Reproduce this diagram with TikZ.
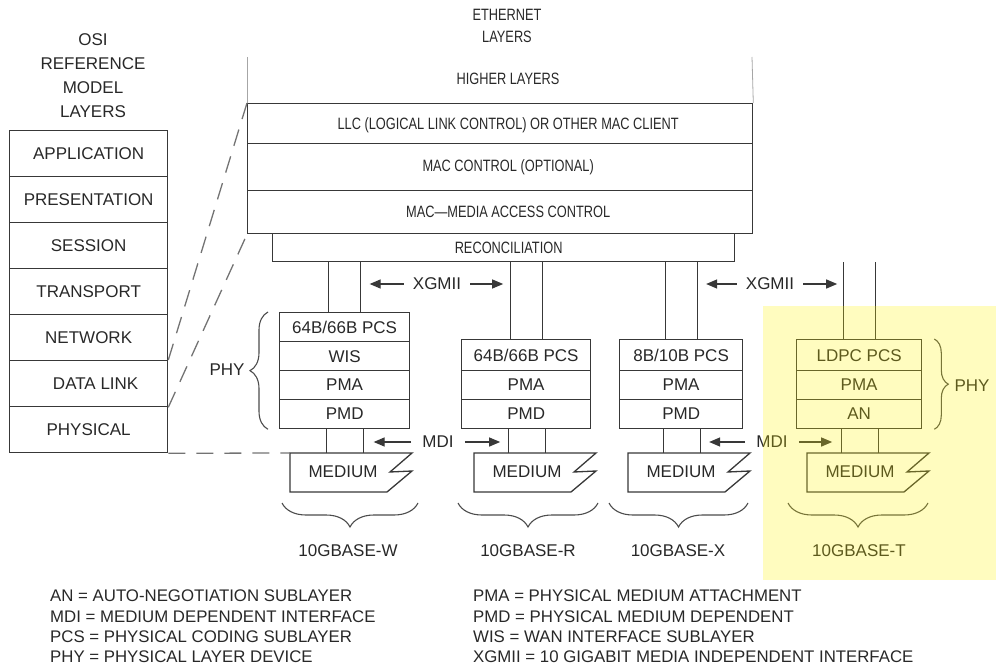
\documentclass[tikz,border=0pt]{standalone}
\usepackage{fontspec}
\setmainfont{Liberation Sans}
\newfontfamily\narrowsf{Liberation Sans}[FakeStretch=0.78]
\usetikzlibrary{arrows.meta,decorations.pathreplacing,calc}

\definecolor{ink}{HTML}{282828}
\definecolor{rule}{HTML}{383838}

\tikzset{
  pics/medium/.style={code={
    \draw[wire] (0,0) -- (122,0) -- (100,19) -- (122,18) -- (97,39) -- (0,39) -- cycle;
    \coordinate (-nw) at (0,0);
    \coordinate (-top) at (61,0);
    \node[big] (-txt) at (53,19) {MEDIUM};
  }}
}

\begin{document}
\begin{tikzpicture}[x=1pt,y=-1pt,
  every node/.style={text=ink, inner sep=0pt},
  big/.style={font=\fontsize{17}{24}\selectfont},
  small/.style={font=\narrowsf\fontsize{16.4}{22}\selectfont},
  legend/.style={font=\fontsize{16.8}{20}\selectfont, anchor=west},
  cell/.style={draw=rule, line width=1.3pt, anchor=north west, big},
  band/.style={draw=rule, line width=1.3pt, anchor=north west},
  wire/.style={draw=rule, line width=1.3pt},
  guide/.style={draw=black!35, line width=0.8pt},
  dashlink/.style={draw=black!55, line width=1.3pt, dash pattern=on 17pt off 11pt},
  dirarrow/.style={draw=rule, line width=1.3pt, -{Triangle[length=11pt,width=9pt]}},
  curly/.style={draw=black!70, line width=1.1pt, decorate, decoration={brace, amplitude=#1}},
]
\useasboundingbox (0,0) rectangle (996,668);

% ---------------- OSI reference model ----------------
\node[big, align=center] (osititle) at (93,76) {OSI\\REFERENCE\\MODEL\\LAYERS};
\node[cell, minimum width=158pt, minimum height=46pt] (o1) at (9,130) {APPLICATION};
\node[cell, minimum width=158pt, minimum height=46pt] (o2) at (9,176) {PRESENTATION};
\node[cell, minimum width=158pt, minimum height=46pt] (o3) at (9,222) {SESSION};
\node[cell, minimum width=158pt, minimum height=46pt] (o4) at (9,268) {TRANSPORT};
\node[cell, minimum width=158pt, minimum height=46pt] (o5) at (9,314) {NETWORK};
\node[cell, minimum width=158pt, minimum height=46pt] (o6) at (9,360) {\hspace*{14pt}DATA LINK};
\node[cell, minimum width=158pt, minimum height=46pt] (o7) at (9,406) {PHYSICAL};

% ---------------- Ethernet layers ----------------
\node[small, align=center] (ethtitle) at (507,26) {ETHERNET\\LAYERS};
\node[small] (higher) at (508,79) {HIGHER LAYERS};
\node[band, minimum width=505pt, minimum height=40pt] (llc) at (247,103) {};
\node[band, minimum width=505pt, minimum height=47pt] (macctl) at (247,143) {};
\node[band, minimum width=505pt, minimum height=43pt] (mac) at (247,190) {};
\node[band, minimum width=462pt, minimum height=28pt] (rec) at (272,233) {};
\node[small] at ([xshift=8pt,yshift=-2pt]llc.center) {LLC (LOGICAL LINK CONTROL) OR OTHER MAC CLIENT};
\node[small] at ([xshift=8pt]macctl.center) {MAC CONTROL (OPTIONAL)};
\node[small] at ([xshift=8pt]mac.center) {MAC\textemdash MEDIA ACCESS CONTROL};
\node[small] at ([xshift=5pt]rec.center) {RECONCILIATION};
\coordinate (hlL) at (247,57);
\coordinate (hlR) at (752,57);
\draw[guide] (hlL) -- (llc.north west);
\draw[guide] (hlR) -- (llc.north east);

% ---------------- 10GBASE-W ----------------
\node[cell, minimum width=130pt, minimum height=29pt] (w1) at (279,312) {64B/66B PCS};
\node[cell, minimum width=130pt, minimum height=29pt] (w2) at (279,341) {WIS};
\node[cell, minimum width=130pt, minimum height=29pt] (w3) at (279,370) {PMA};
\node[cell, minimum width=130pt, minimum height=29pt] (w4) at (279,399) {PMD};
\pic (mw) at (290,453) {medium};

% ---------------- 10GBASE-R ----------------
\node[cell, minimum width=129pt, minimum height=31pt] (r1) at (461,339) {64B/66B PCS};
\node[cell, minimum width=129pt, minimum height=29pt] (r2) at (461,370) {PMA};
\node[cell, minimum width=129pt, minimum height=29pt] (r3) at (461,399) {PMD};
\pic (mr) at (474,453) {medium};

% ---------------- 10GBASE-X ----------------
\node[cell, minimum width=123pt, minimum height=31pt] (x1) at (619,339) {8B/10B PCS};
\node[cell, minimum width=123pt, minimum height=29pt] (x2) at (619,370) {PMA};
\node[cell, minimum width=123pt, minimum height=29pt] (x3) at (619,399) {PMD};
\pic (mx) at (628,453) {medium};

% ---------------- 10GBASE-T ----------------
\node[cell, minimum width=125pt, minimum height=31pt] (t1) at (796,339) {LDPC PCS};
\node[cell, minimum width=125pt, minimum height=29pt] (t2) at (796,370) {PMA};
\node[cell, minimum width=125pt, minimum height=29pt] (t3) at (796,399) {AN};
\pic (mt) at (807,453) {medium};

% XGMII pairs from the reconciliation sublayer down to each PCS
\foreach \b in {w1,r1,x1,t1}{
  \draw[wire] ([xshift=-16pt]\b.north) -- ([xshift=-16pt]\b.north |- rec.south);
  \draw[wire] ([xshift=16pt]\b.north) -- ([xshift=16pt]\b.north |- rec.south);
}
% MDI pairs from each lowest sublayer down to its medium
\foreach \b/\m in {w4/mw,r3/mr,x3/mx,t3/mt}{
  \draw[wire] ([xshift=-18pt]\b.south) -- ([xshift=-18pt]\b.south |- \m-top);
  \draw[wire] ([xshift=19pt]\b.south) -- ([xshift=19pt]\b.south |- \m-top);
}

% interface labels with their arrows
\node[big] (xg1) at (437,284) {XGMII};
\node[big] (xg2) at (770,284) {XGMII};
\node[big] (md1) at (438,442) {MDI};
\node[big] (md2) at (772,442) {MDI};
\draw[dirarrow] ([xshift=-9pt]xg1.west) -- ($([xshift=16pt]w1.north |- xg1.west)+(9,0)$);
\draw[dirarrow] ([xshift=9pt]xg1.east) -- ($([xshift=-16pt]r1.north |- xg1.east)+(-7,0)$);
\draw[dirarrow] ([xshift=-9pt]xg2.west) -- ($([xshift=16pt]x1.north |- xg2.west)+(9,0)$);
\draw[dirarrow] ([xshift=9pt]xg2.east) -- ($([xshift=-16pt]t1.north |- xg2.east)+(-6,0)$);
\draw[dirarrow] ([xshift=-11pt]md1.west) -- ($([xshift=19pt]w4.south |- md1.west)+(10,0)$);
\draw[dirarrow] ([xshift=11pt]md1.east) -- ($([xshift=-18pt]r3.south |- md1.east)+(-8,0)$);
\draw[dirarrow] ([xshift=-11pt]md2.west) -- ($([xshift=19pt]x3.south |- md2.west)+(9,0)$);
\draw[dirarrow] ([xshift=11pt]md2.east) -- ($([xshift=-18pt]t3.south |- md2.east)+(-9,0)$);

% PHY braces
\draw[curly=18pt] (w4.south west) ++(-11,0) coordinate (pwb) -- (pwb |- w1.north);
\node[big] (phyl) at (227,370) {PHY};
\draw[curly=14pt] (t1.north east) ++(12,0) coordinate (ptt) -- (ptt |- t3.south);
\node[big] (phyr) at (972,386) {PHY};

% port braces and names
\draw[curly=24pt] (418,503) -- (282,503);
\draw[curly=24pt] (598,503) -- (458,503);
\draw[curly=24pt] (748,503) -- (609,503);
\draw[curly=24pt] (928,503) -- (788,503);
\node[big] (nw) at (348,551) {10GBASE-W};
\node[big] (nr) at (528,551) {10GBASE-R};
\node[big] (nx) at (678,551) {10GBASE-X};
\node[big] (nt) at (859,551) {10GBASE-T};

% OSI to Ethernet correspondence
\draw[dashlink] (o6.north east) -- (llc.north west);
\draw[dashlink] (o6.south east) -- (mac.south west);
\draw[dashlink] (o7.south east) -- (mw-nw);

% highlight of the 10GBASE-T port
\fill[yellow, fill opacity=0.25] (763,306) rectangle (996,580);

% abbreviations
\node[legend] (l1) at (50,596) {AN = AUTO-NEGOTIATION SUBLAYER};
\node[legend] (l2) at (50,616.5) {MDI = MEDIUM DEPENDENT INTERFACE};
\node[legend] (l3) at (50,637) {PCS = PHYSICAL CODING SUBLAYER};
\node[legend] (l4) at (50,657) {PHY = PHYSICAL LAYER DEVICE};
\node[legend] (l5) at (473,596) {PMA = PHYSICAL MEDIUM ATTACHMENT};
\node[legend] (l6) at (473,616.5) {PMD = PHYSICAL MEDIUM DEPENDENT};
\node[legend] (l7) at (473,637) {WIS = WAN INTERFACE SUBLAYER};
\node[legend] (l8) at (473,657) {XGMII = 10 GIGABIT MEDIA INDEPENDENT INTERFACE};
\end{tikzpicture}
\end{document}
